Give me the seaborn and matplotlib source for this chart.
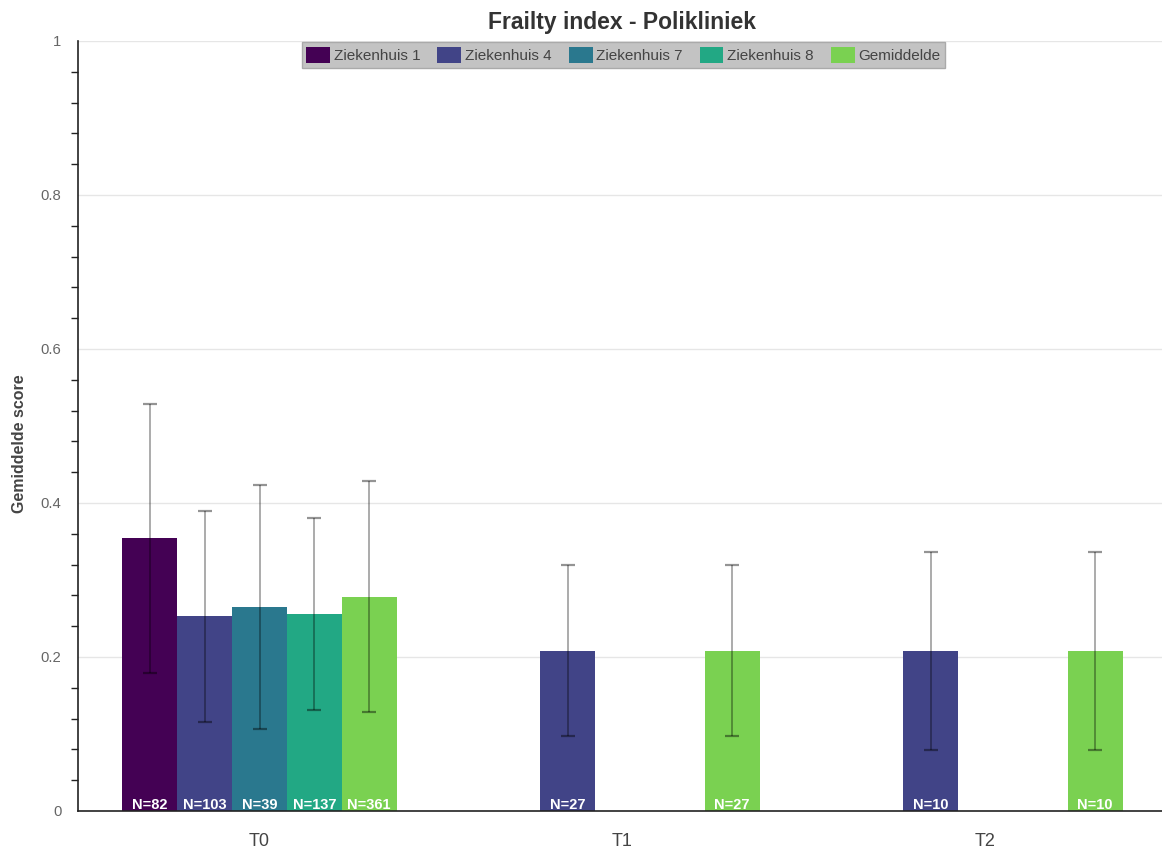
import numpy as np
import pandas as pd
import seaborn as sns
import matplotlib
matplotlib.use("Agg")
import matplotlib.pyplot as plt
from matplotlib.ticker import MultipleLocator, FuncFormatter

# --- data -------------------------------------------------------------------
timepoints = ["T0", "T1", "T2"]
groups = ["Ziekenhuis 1", "Ziekenhuis 4", "Ziekenhuis 7", "Ziekenhuis 8", "Gemiddelde"]
group_colors = ["#440154", "#414487", "#2a788e", "#22a884", "#7ad151"]

nan = np.nan
# mean frailty score per group (rows) and timepoint (columns)
mean_score = [
    [0.354, nan, nan],
    [0.253, 0.208, 0.208],
    [0.265, nan, nan],
    [0.256, nan, nan],
    [0.278, 0.208, 0.208],
]
# standard deviation shown as error bars
sd_score = [
    [0.175, nan, nan],
    [0.137, 0.111, 0.129],
    [0.158, nan, nan],
    [0.125, nan, nan],
    [0.150, 0.111, 0.129],
]
# number of patients per bar
n_patients = [
    [82, None, None],
    [103, 27, 10],
    [39, None, None],
    [137, None, None],
    [361, 27, 10],
]

rows = []
for gi, g in enumerate(groups):
    for ti, t in enumerate(timepoints):
        if not np.isnan(mean_score[gi][ti]):
            rows.append({"tijdstip": t, "groep": g, "score": mean_score[gi][ti]})
df = pd.DataFrame(rows)

# --- figure -----------------------------------------------------------------
sns.set_style("white")
plt.rcParams["font.family"] = ["Liberation Sans", "DejaVu Sans"]

W, H = 1162, 852
fig = plt.figure(figsize=(W / 100, H / 100), dpi=100)
# plot area: x from 78 px, 1089 px wide (runs slightly past the right edge)
ax = fig.add_axes([78 / W, 1 - 811 / H, 1089 / W, 770 / H])

sns.barplot(
    data=df, x="tijdstip", y="score", hue="groep",
    order=timepoints, hue_order=groups, palette=group_colors,
    width=0.755, errorbar=None, saturation=1, linewidth=0, ax=ax,
)

bar_containers = list(ax.containers)

# error bars and N labels per bar
for gi, container in enumerate(bar_containers):
    for bar in container:
        xc = bar.get_x() + bar.get_width() / 2
        ti = int(round(xc))
        m = mean_score[gi][ti]
        s = sd_score[gi][ti]
        if np.isnan(m):
            continue
        _, caps, _ = ax.errorbar(
            xc, m, yerr=s, fmt="none", ecolor=(0, 0, 0, 0.42),
            elinewidth=1.1, capsize=5.2, capthick=1.6, zorder=4,
        )
        for c in caps:
            c.set_color("#3a3a3a")
        ax.text(xc, 0.0028, f"N={n_patients[gi][ti]}", ha="center", va="baseline",
                color="white", fontsize=10.5, fontweight="bold", zorder=5)

# axes styling
ax.set_ylim(0, 1)
ax.set_xlim(-0.5, 2.5)
ax.yaxis.set_major_locator(MultipleLocator(0.2))
ax.yaxis.set_minor_locator(MultipleLocator(0.04))
ax.yaxis.set_major_formatter(FuncFormatter(lambda v, p: f"{v:g}"))
ax.grid(axis="y", which="major", color="#e6e6e6", linewidth=1)
ax.set_axisbelow(True)
for side in ["top", "right"]:
    ax.spines[side].set_visible(False)
ax.spines["left"].set_color("#222222")
ax.spines["bottom"].set_color("#222222")
ax.spines["left"].set_linewidth(1.2)
ax.spines["bottom"].set_linewidth(1.2)

ax.tick_params(axis="y", which="major", length=6, width=1, color="#222222",
               labelsize=10.7, labelcolor="#666666", pad=5.8)
ax.tick_params(axis="y", which="minor", length=5, width=1, color="#222222", left=True)
ax.tick_params(axis="x", length=4, width=1, color="#dddddd",
               labelsize=13, labelcolor="#444444", pad=12)

ax.set_xlabel("")
ax.set_ylabel("Gemiddelde score", fontsize=11.5, fontweight="bold", color="#444444")
ax.yaxis.set_label_coords((27 - 78) / 1089, 0.477)
ax.set_title("Frailty index - Polikliniek", fontsize=16.5, fontweight="bold",
             color="#333333", pad=8.4)

leg = ax.legend(
    loc="upper center", bbox_to_anchor=(0.5008, 1 - 1 / 770), ncol=5, frameon=True,
    fancybox=False, facecolor="#c3c3c3", edgecolor="#aaaaaa", framealpha=1,
    fontsize=11, handlelength=1.57, handleheight=1.3, handletextpad=0.24,
    columnspacing=1.1, borderpad=0.3, borderaxespad=0, title=None,
)
for txt in leg.get_texts():
    txt.set_color("#444444")

fig.savefig("out.png", dpi=100)
